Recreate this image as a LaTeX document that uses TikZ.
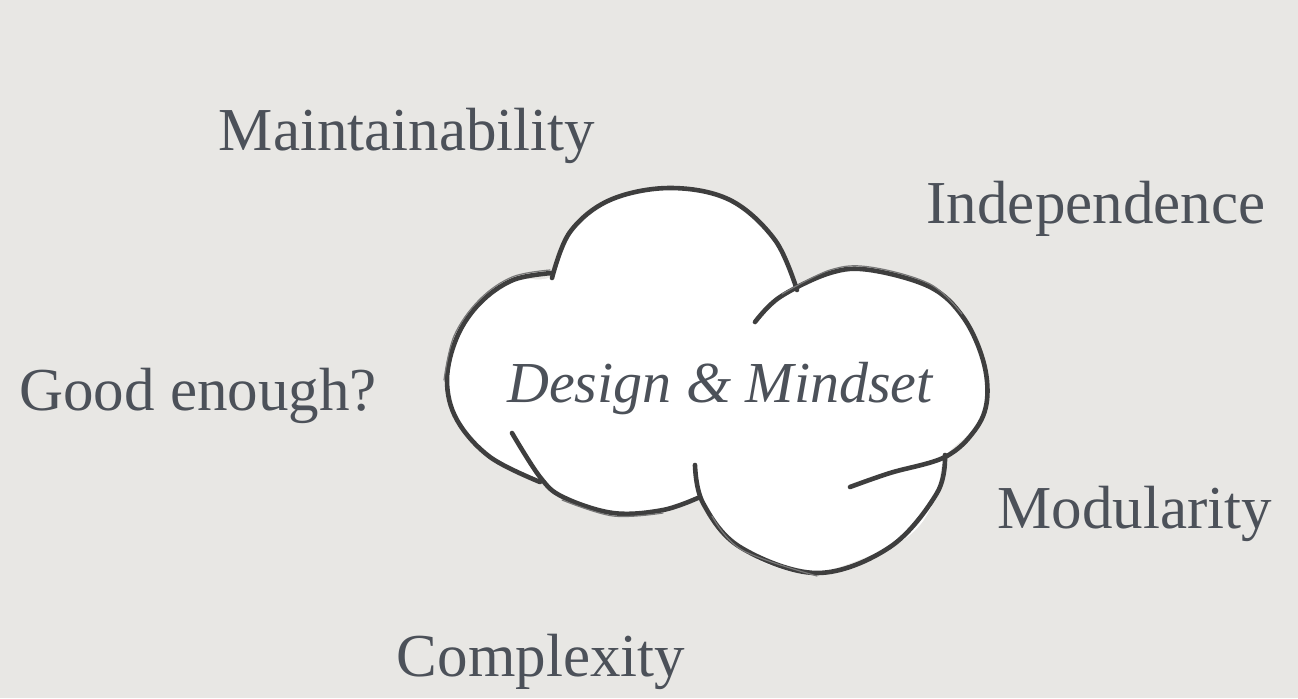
\documentclass[tikz,border=0pt]{standalone}
\usepackage{fontspec}
\setmainfont{Liberation Serif}
\definecolor{bg}{RGB}{232,231,228}
\definecolor{txt}{RGB}{76,81,89}
\definecolor{ink}{RGB}{62,62,62}
\begin{document}
\begin{tikzpicture}[x=0.5pt,y=-0.5pt,
  word/.style={text=txt, font=\fontsize{30.5}{33}\selectfont, anchor=base, inner sep=0pt},
  brush/.style={draw=ink, line width=2.3pt, line cap=round, line join=round},
  brushthin/.style={draw=ink!70, line width=0.6pt, line cap=round}]
\fill[bg] (0,0) rectangle (1298,698);
\useasboundingbox (0,0) rectangle (1298,698);
% cloud fill
\fill[white] plot[smooth cycle, tension=0.55] coordinates {
  (552,276) (570,232) (610,200) (670,188) (730,200) (775,240) (797,285)
  (830,273) (870,270) (930,287) (963,317) (983,360) (987,400) (975,428) (945,457)
  (937,493) (920,525) (890,547) (817,573) (770,565) (740,547) (715,525) (700,500)
  (663,510) (613,513) (563,497) (540,480)
  (490,457) (457,420) (447,380) (457,337) (480,303) (513,280)};
% top lobe
\draw[brush] plot[smooth, tension=0.6] coordinates {(552,278) (570,232) (610,200) (670,188) (730,200) (775,240) (797,290)};
% right lobe
\draw[brush] plot[smooth, tension=0.6] coordinates {(755,322) (780,297) (830,273) (870,270) (930,287) (963,317) (983,360) (987,400) (975,430) (945,457) (890,473) (850,487)};
\draw[brushthin] plot[smooth, tension=0.6] coordinates {(782,294) (830,270) (870,267) (930,284) (962,314)};
% bottom-right lobe
\draw[brush] plot[smooth, tension=0.6] coordinates {(695,465) (703,503) (740,547) (817,573) (890,547) (937,493) (945,455)};
\draw[brushthin] plot[smooth, tension=0.6] coordinates {(712,516) (742,550) (817,576)};
% bottom-left lobe
\draw[brush] plot[smooth, tension=0.6] coordinates {(512,433) (540,477) (563,497) (613,513) (663,510) (700,497)};
\draw[brushthin] plot[smooth, tension=0.6] coordinates {(562,500) (613,516) (663,513)};
% left lobe
\draw[brush] plot[smooth, tension=0.6] coordinates {(552,273) (513,280) (480,303) (457,337) (447,380) (457,420) (490,457) (540,482)};
\draw[brushthin] plot[smooth, tension=0.6] coordinates {(550,270) (512,277) (479,300) (454,336) (444,380)};
% labels
\node[word, font=\fontsize{29}{32}\selectfont\itshape] (center) at (720,402) {Design \& Mindset};
\node[word] (maint) at (407,150) {Maintainability};
\node[word] (indep) at (1096,223) {Independence};
\node[word] (good) at (198,410) {Good enough?};
\node[word] (modul) at (1135,528) {Modularity};
\node[word] (compl) at (541,676) {Complexity};
\end{tikzpicture}
\end{document}
